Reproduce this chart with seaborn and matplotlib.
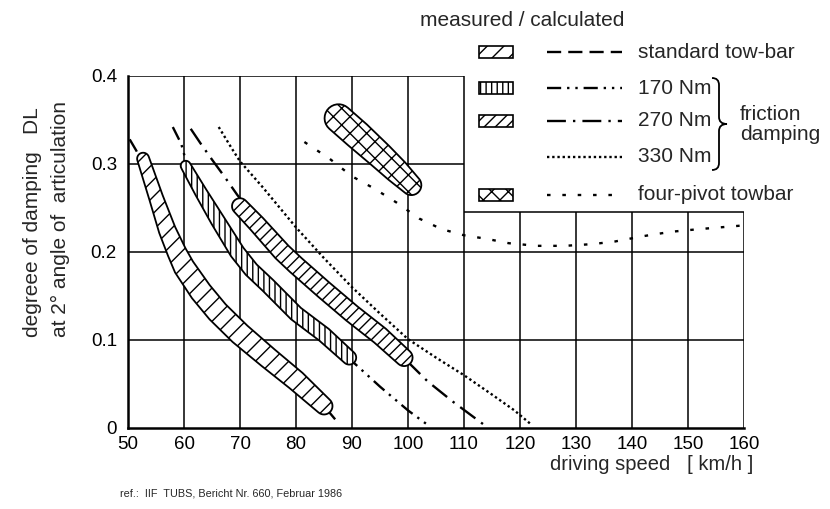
import numpy as np
import pandas as pd
import matplotlib
matplotlib.use("Agg")
import matplotlib.pyplot as plt
import seaborn as sns
from matplotlib.patches import Rectangle, PathPatch
from matplotlib.path import Path
from matplotlib.lines import Line2D

# ---------------- data ----------------
x_ticks = [50, 60, 70, 80, 90, 100, 110, 120, 130, 140, 150, 160]
y_ticks = [0.0, 0.1, 0.2, 0.3, 0.4]
y_tick_labels = ["0", "0.1", "0.2", "0.3", "0.4"]

# calculated curves
std_x = [50.3, 51.5, 53, 55, 57, 58.7, 60, 63, 66, 70, 75, 80, 85, 87.5]
std_y = [0.328, 0.315, 0.295, 0.262, 0.228, 0.202, 0.186, 0.157, 0.133, 0.107, 0.080, 0.054, 0.025, 0.006]

nm170_x = [58.0, 59.5, 60.5, 63, 66, 69.5, 72, 75, 80, 85, 90, 95, 100, 103.2]
nm170_y = [0.342, 0.323, 0.300, 0.268, 0.236, 0.200, 0.181, 0.162, 0.131, 0.105, 0.076, 0.047, 0.020, 0.005]

nm270_x = [61.2, 63, 65, 67.3, 69.5, 73, 77.5, 80, 85, 90, 95, 100, 103.5, 108, 113.5]
nm270_y = [0.340, 0.323, 0.305, 0.285, 0.265, 0.236, 0.203, 0.186, 0.157, 0.130, 0.103, 0.075, 0.053, 0.030, 0.004]

nm330_x = [66.2, 68.5, 70, 74, 80, 85, 90, 95, 100, 105, 110, 115, 119, 122]
nm330_y = [0.342, 0.318, 0.303, 0.274, 0.228, 0.193, 0.160, 0.130, 0.101, 0.080, 0.060, 0.038, 0.020, 0.004]

pivot_x = [81.5, 86, 90, 94, 98, 102, 106, 110, 114, 118, 123, 128, 133, 137, 142, 147, 152, 159.5]
pivot_y = [0.325, 0.306, 0.286, 0.272, 0.256, 0.238, 0.226, 0.219, 0.215, 0.210, 0.207, 0.207, 0.209, 0.212, 0.218, 0.223, 0.226, 0.230]

# measured bands (centre line)
band_std_x = [52.7, 55, 57, 58.7, 60, 63, 66, 70, 75, 80, 85]
band_std_y = [0.306, 0.262, 0.225, 0.200, 0.183, 0.155, 0.132, 0.107, 0.080, 0.054, 0.025]

band_170_x = [60.3, 63, 66, 69.5, 72, 75, 80, 85, 89.5]
band_170_y = [0.298, 0.268, 0.236, 0.200, 0.180, 0.162, 0.130, 0.106, 0.080]

band_270_x = [70.0, 73, 77.5, 80, 85, 90, 95, 99.3]
band_270_y = [0.252, 0.232, 0.200, 0.185, 0.157, 0.130, 0.105, 0.080]

band_piv_x = [87.6, 91, 95, 98, 100.6]
band_piv_y = [0.352, 0.333, 0.310, 0.292, 0.276]

# ---------------- style ----------------
sns.set_theme(style="white")
plt.rcParams["font.family"] = ["Liberation Sans", "DejaVu Sans"]
plt.rcParams["hatch.linewidth"] = 1.0
plt.rcParams["hatch.color"] = "black"

W, H = 830, 509
fig = plt.figure(figsize=(W / 100, H / 100), dpi=100)
ax = fig.add_axes([128 / W, (H - 428) / H, (744 - 128) / W, (428 - 76) / H])
ax.set_xlim(50, 160)
ax.set_ylim(0, 0.4)

BOX_X, BOX_Y = 110, 0.245   # lower-left corner of the legend box

# grid
for xv in x_ticks[1:]:
    ax.vlines(xv, 0, 0.4 if xv <= BOX_X else BOX_Y, color="black", lw=1.1, zorder=1)
for yv in y_ticks[1:]:
    ax.hlines(yv, 50, 160 if yv < BOX_Y else BOX_X, color="black", lw=1.1, zorder=1)
ax.hlines(BOX_Y, BOX_X, 160, color="black", lw=1.1, zorder=1)

for s in ["top", "right"]:
    ax.spines[s].set_visible(False)
for s in ["left", "bottom"]:
    ax.spines[s].set_linewidth(1.8)
    ax.spines[s].set_color("black")

ax.set_xticks(x_ticks)
ax.set_xticklabels([str(v) for v in x_ticks])
ax.set_yticks(y_ticks)
ax.set_yticklabels(y_tick_labels)
ax.tick_params(axis="both", direction="out", length=4, width=1.2, color="black",
               labelsize=13.5, labelcolor="black", pad=2)
ax.tick_params(axis="y", pad=4)

# calculated curves
LS_STD = (0, (6, 3))
LS_170 = (0, (6, 2.5, 1, 2.5, 1, 2.5))
LS_270 = (0, (8, 3, 1, 3))
LS_330 = (0, (1, 1.2))
LS_PIV = (0, (1.5, 5))
curves = [
    (std_x, std_y, LS_STD),
    (nm170_x, nm170_y, LS_170),
    (nm270_x, nm270_y, LS_270),
    (nm330_x, nm330_y, LS_330),
    (pivot_x, pivot_y, LS_PIV),
]
for cx, cy, ls in curves:
    df = pd.DataFrame({"speed": cx, "DL": cy})
    sns.lineplot(data=df, x="speed", y="DL", ax=ax, color="black", lw=1.7,
                 linestyle=ls, estimator=None, sort=False, zorder=2)
ax.set_xlabel("")
ax.set_ylabel("")


def band_outline(xs, ys, widths):
    pts = ax.transData.transform(np.column_stack([xs, ys]))
    d = np.gradient(pts, axis=0)
    t = d / np.linalg.norm(d, axis=1)[:, None]
    n = np.column_stack([-t[:, 1], t[:, 0]])
    w = np.asarray(widths, float)[:, None] / 2
    upper = pts + n * w
    lower = pts - n * w
    a_end = np.arctan2(n[-1, 1], n[-1, 0])
    th = np.linspace(a_end, a_end - np.pi, 16)
    cap_end = pts[-1] + w[-1] * np.column_stack([np.cos(th), np.sin(th)])
    a_st = np.arctan2(n[0, 1], n[0, 0])
    th = np.linspace(a_st - np.pi, a_st - 2 * np.pi, 16)
    cap_st = pts[0] + w[0] * np.column_stack([np.cos(th), np.sin(th)])
    outline = np.vstack([upper, cap_end, lower[::-1], cap_st])
    return ax.transData.inverted().transform(outline)


bands = [
    (band_std_x, band_std_y, [12, 14, 17, 19, 21, 22, 22, 22, 21, 20, 17], "//"),
    (band_170_x, band_170_y, [10, 12, 14, 15, 15, 15, 15, 15, 14], "|||"),
    (band_270_x, band_270_y, [16, 17, 18, 18, 18, 18, 18, 17], "///"),
    (band_piv_x, band_piv_y, [28, 28, 26, 24, 20], "xx"),
]
for bx, by, bw, hatch in bands:
    ol = band_outline(bx, by, bw)
    ax.fill(ol[:, 0], ol[:, 1], facecolor="white", edgecolor="black",
            hatch=hatch, lw=1.3, zorder=3)

# ---------------- texts ----------------
def fx(px):
    return px / W


def fy(py):
    return 1 - py / H


fig.text(fx(33), fy(337), "degreee of damping   DL", rotation=90, ha="center",
         va="bottom", fontsize=15)
fig.text(fx(60), fy(337), "at 2° angle of  articulation", rotation=90, ha="center",
         va="bottom", fontsize=15)
fig.text(fx(652), fy(465), "driving speed   [ km/h ]", ha="center", va="center",
         fontsize=14.5)
fig.text(fx(120), fy(493), "ref.:  IIF  TUBS, Bericht Nr. 660, Februar 1986",
         ha="left", va="center", fontsize=7.8)

# ---------------- legend ----------------
fig.text(fx(420), fy(20), "measured / calculated", ha="left", va="center", fontsize=15)
rows = [
    (52, "//", LS_STD, "standard tow-bar"),
    (88, "|||", LS_170, "170 Nm"),
    (121, "///", LS_270, "270 Nm"),
    (157, None, LS_330, "330 Nm"),
    (195, "xx", LS_PIV, "four-pivot towbar"),
]
for py, hatch, ls, label in rows:
    if hatch is not None:
        fig.patches.append(Rectangle((fx(479), fy(py + 6)), fx(34), 12 / H,
                                     transform=fig.transFigure, facecolor="white",
                                     edgecolor="black", hatch=hatch, lw=1.2))
    fig.lines.append(Line2D([fx(547), fx(622)], [fy(py), fy(py)],
                            transform=fig.transFigure, color="black", lw=1.7,
                            linestyle=ls))
    fig.text(fx(638), fy(py), label, ha="left", va="center", fontsize=15)

# brace
bx0, bx1, bxt = 712, 719, 727
by0, by1 = 78, 170
bm = (by0 + by1) / 2
verts_px = [(bx0, by0), (bx1, by0), (bx1, by0 + 7),
            (bx1, bm - 7), (bx1, bm), (bxt, bm),
            (bx1, bm), (bx1, bm + 7),
            (bx1, by1 - 7), (bx1, by1), (bx0, by1)]
codes = [Path.MOVETO, Path.CURVE3, Path.CURVE3,
         Path.LINETO, Path.CURVE3, Path.CURVE3,
         Path.CURVE3, Path.CURVE3,
         Path.LINETO, Path.CURVE3, Path.CURVE3]
verts = [(fx(a), fy(b)) for a, b in verts_px]
fig.patches.append(PathPatch(Path(verts, codes), transform=fig.transFigure,
                             facecolor="none", edgecolor="black", lw=1.3))
fig.text(fx(740), fy(114), "friction", ha="left", va="center", fontsize=15)
fig.text(fx(740), fy(135), "damping", ha="left", va="center", fontsize=15)

fig.savefig("out.png", dpi=100)
